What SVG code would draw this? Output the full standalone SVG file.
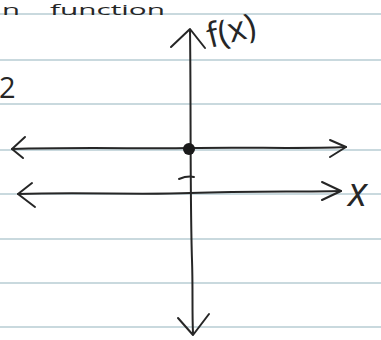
<svg xmlns="http://www.w3.org/2000/svg" width="381" height="340" viewBox="0 0 381 340">
<style>
.rule{stroke:#c9d9de;stroke-width:2}
.ink{fill:none;stroke:#262626;stroke-width:2;stroke-linecap:round;stroke-linejoin:round}
.txt{font-family:"Open Sans","Liberation Sans",sans-serif;fill:#262626}
</style>
<rect width="381" height="340" fill="#ffffff"/>
<g id="paper">
<line class="rule" x1="0" y1="14" x2="381" y2="14"/>
<line class="rule" x1="0" y1="60" x2="381" y2="60"/>
<line class="rule" x1="0" y1="104" x2="381" y2="104"/>
<line class="rule" x1="0" y1="150" x2="381" y2="150"/>
<line class="rule" x1="0" y1="194" x2="381" y2="194"/>
<line class="rule" x1="0" y1="239" x2="381" y2="239"/>
<line class="rule" x1="0" y1="283" x2="381" y2="283"/>
<line class="rule" x1="0" y1="327" x2="381" y2="327"/>
</g>
<g id="heading">
<text class="txt" x="2" y="15" font-size="14" textLength="18" lengthAdjust="spacingAndGlyphs">n</text>
<text class="txt" x="50" y="15" font-size="14" textLength="115" lengthAdjust="spacingAndGlyphs">function</text>
</g>
<g id="label-2"><text class="txt" x="-1" y="98" font-size="29">2</text></g>
<g id="label-fx"><text class="txt" x="0" y="0" font-size="34" transform="translate(210,48) rotate(-14)">f(x)</text></g>
<g id="label-x"><text class="txt" x="348" y="206" font-size="40" font-style="italic">x</text></g>
<g id="connectors">
<path class="ink" d="M190,30 C191,100 190,200 192,260 C193,290 192,310 193,333"/>
<path class="ink" d="M171,47 L190,29 L205,48"/>
<path class="ink" d="M178,318 L193,335 L209,314"/>
<path class="ink" d="M12,149 C80,147 150,149 190,148 C250,147 300,149 346,147"/>
<path class="ink" d="M25,137 L12,149 L23,158"/>
<path class="ink" d="M330,140 L346,147 L330,157"/>
<path class="ink" d="M18,194 C80,192 140,195 190,193 C250,191 300,192 341,191"/>
<path class="ink" d="M32,183 L18,194 L35,207"/>
<path class="ink" d="M322,182 L341,191 L322,200"/>
<path class="ink" d="M179,179 C184,177 189,176 194,177"/>
</g>
<g id="origin"><circle cx="189" cy="149" r="6" fill="#1a1a1a"/></g>
</svg>
